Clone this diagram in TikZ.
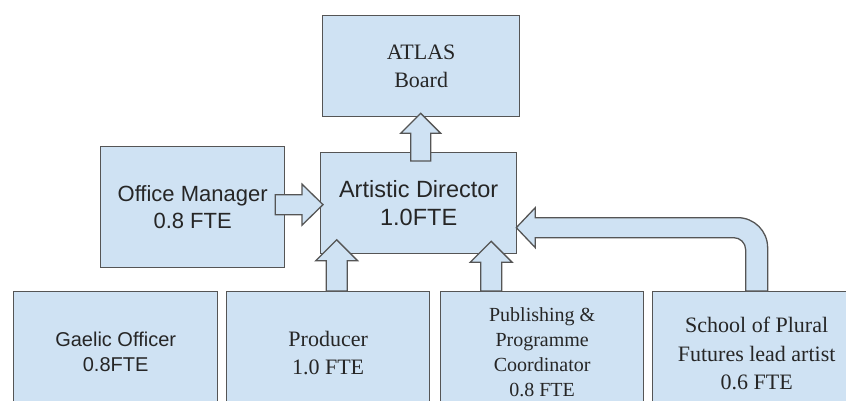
\documentclass[tikz,border=0pt]{standalone}
\usepackage{fontspec}
\usetikzlibrary{calc}
\newfontfamily\arialf{Liberation Sans}
\newfontfamily\timesf{Liberation Serif}
\definecolor{boxblue}{HTML}{CFE2F3}
\definecolor{bordergray}{HTML}{555555}
\definecolor{textgray}{HTML}{262626}
\tikzset{
  box/.style={draw=bordergray, line width=1.3pt, fill=boxblue, text=textgray,
    align=center, inner sep=0pt, anchor=north west},
  blk/.style={draw=bordergray, line width=1.3pt, fill=boxblue, line join=miter}
}
\newcommand{\upblk}[2]{%
  \draw[blk] (#1) -- ++(21,21) -- ++(-10.5,0) -- ($(#2)+(10.5,0)$)
    -- ($(#2)+(-10.5,0)$) -- ($(#1)+(-10.5,21)$) -- ++(-10.5,0) -- cycle;}
\newcommand{\rightblk}[2]{%
  \draw[blk] (#1) -- ++(-21,-20.5) -- ++(0,10.5) -- ($(#2)+(0,-10)$)
    -- ($(#2)+(0,10)$) -- ($(#1)+(-21,10)$) -- ++(0,10.5) -- cycle;}
\begin{document}
\begin{tikzpicture}[x=1pt,y=-1pt]
\useasboundingbox (0,0) rectangle (846,401);
\clip (0,0) rectangle (846,401);
% boxes
\node[box, minimum width=197pt, minimum height=101pt,
  font=\timesf\fontsize{22}{28}\selectfont] (board) at (322,15) {ATLAS\\Board};
\node[box, minimum width=196pt, minimum height=101pt,
  font=\arialf\fontsize{23.5}{28}\selectfont] (ad) at (320,152) {Artistic Director\\1.0FTE};
\node[box, minimum width=184pt, minimum height=121pt,
  font=\arialf\fontsize{22}{27}\selectfont] (om) at (100,146) {Office Manager\\0.8 FTE};
\node[box, minimum width=204pt, minimum height=120pt,
  font=\arialf\fontsize{20}{25}\selectfont] (gaelic) at (13,291) {Gaelic Officer\\0.8FTE};
\node[box, minimum width=203pt, minimum height=122pt,
  font=\timesf\fontsize{22}{28}\selectfont] (producer) at (226,291) {Producer\\1.0 FTE};
\node[box, minimum width=203pt, minimum height=122pt,
  font=\timesf\fontsize{20}{25}\selectfont] (pub) at (440,291)
  {Publishing \&\\Programme\\Coordinator\\0.8 FTE};
\node[box, minimum width=208pt, minimum height=124pt,
  font=\timesf\fontsize{22}{28.5}\selectfont] (school) at (652,291)
  {School of Plural\\Futures lead artist\\0.6 FTE};
% connector coordinates
\coordinate (t1) at ($(board.south)+(-0.5,-4)$);
\coordinate (b1) at ($(t1|-ad.north)+(0,9)$);
\coordinate (t2) at ($(ad.south)+(-82,-14.5)$);
\coordinate (b2) at (t2|-producer.north);
\coordinate (t3) at ($(ad.south)+(72.5,-13)$);
\coordinate (b3) at (t3|-pub.north);
\coordinate (t4) at ($(ad.west)+(3,1.5)$);
\coordinate (b4) at ($(t4-|om.east)+(-10,0)$);
\coordinate (ctip) at ($(ad.east)+(-1,24.5)$);
\coordinate (cbase) at (school.north);
% connectors
\draw[blk] (t1) -- ++(20,20) -- ++(-10,0) -- ($(b1)+(10,0)$)
  -- ($(b1)+(-10,0)$) -- ($(t1)+(-10,20)$) -- ++(-10,0) -- cycle;
\upblk{t2}{b2}
\upblk{t3}{b3}
\rightblk{t4}{b4}
\draw[blk] (ctip) -- ++(19,-20) -- ++(0,10)
  -- ($(cbase|-ctip)+(-19,-10)$)
  .. controls ($(cbase|-ctip)+(-2.4,-10)$) and ($(cbase|-ctip)+(11,3.4)$) ..
  ($(cbase|-ctip)+(11,20)$)
  -- ($(cbase)+(11,0)$) -- ($(cbase)+(-11,0)$)
  -- ($(cbase|-ctip)+(-11,22)$)
  .. controls ($(cbase|-ctip)+(-11,15.4)$) and ($(cbase|-ctip)+(-16.4,10)$) ..
  ($(cbase|-ctip)+(-23,10)$)
  -- ($(ctip)+(19,10)$) -- ++(0,10) -- cycle;
\end{tikzpicture}
\end{document}
